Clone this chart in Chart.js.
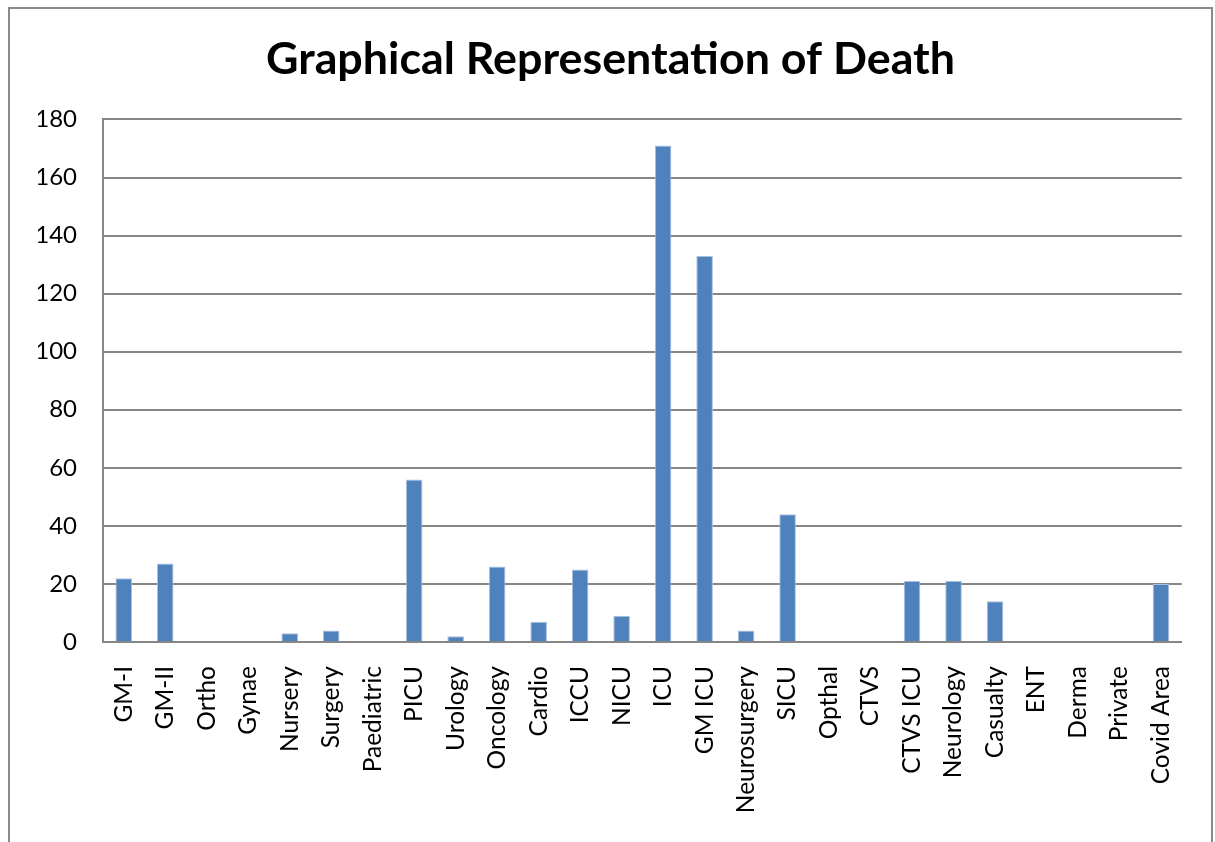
<!DOCTYPE html>
<html>
<head>
<meta charset="utf-8">
<script src="https://cdn.jsdelivr.net/npm/chart.js@4/dist/chart.umd.min.js"></script>
<style>
  html, body { margin: 0; padding: 0; background: #fff; }
  #wrap { width: 1215px; height: 842px; }
</style>
</head>
<body>
<div id="wrap"><canvas id="deathChart" width="1215" height="842"></canvas></div>
<script>
// departments along the x axis
const departments = ["GM-I", "GM-II", "Ortho", "Gynae", "Nursery", "Surgery", "Paediatric", "PICU",
  "Urology", "Oncology", "Cardio", "ICCU", "NICU", "ICU", "GM ICU", "Neurosurgery", "SICU",
  "Opthal", "CTVS", "CTVS ICU", "Neurology", "Casualty", "ENT", "Derma", "Private", "Covid Area"];

// number of deaths per department
const deaths = [22, 27, 0, 0, 3, 4, 0, 56, 2, 26, 7, 25, 9, 171, 133, 4, 44, 0, 0, 21, 21, 14, 0, 0, 0, 20];

const yMin = 0;
const yMax = 180;
const yStep = 20;

const gridGray = "#868686";

// outer frame like the Excel chart border
const framePlugin = {
    id: "frame",
    beforeDraw(chart) {
        const ctx = chart.ctx;
        ctx.save();
        ctx.fillStyle = "#ffffff";
        ctx.fillRect(0, 0, chart.width, chart.height);
        ctx.strokeStyle = "#8a8a8a";
        ctx.lineWidth = 2;
        ctx.strokeRect(9, 8, 1203, 900);
        ctx.restore();
    }
};

let ctx = document.getElementById("deathChart").getContext("2d");

let deathChart = new Chart(ctx, {
    type: "bar",
    data: {
        labels: departments,
        datasets: [{
            label: "Deaths",
            data: deaths,
            backgroundColor: "#4F81BD",
            borderColor: "#A9C1E0",
            borderWidth: 1,
            categoryPercentage: 1.0,
            barPercentage: 0.4
        }]
    },
    options: {
        responsive: false,
        animation: false,
        layout: {
            // left/right padding picked so the title centres at x ~ 611
            padding: { left: 38, right: 32, top: 0, bottom: 0 }
        },
        plugins: {
            legend: { display: false },
            tooltip: { enabled: false },
            title: {
                display: true,
                text: "Graphical Representation of Death",
                color: "#000",
                font: { family: "Lato", size: 44.8, weight: "bold" },
                padding: { top: 32.5, bottom: 33.2 }
            }
        },
        scales: {
            y: {
                min: yMin,
                max: yMax,
                ticks: {
                    stepSize: yStep,
                    color: "#000",
                    font: { family: "Lato", size: 24 },
                    padding: 26
                },
                grid: {
                    color: gridGray,
                    lineWidth: 2,
                    drawTicks: false
                },
                border: { display: true, color: gridGray, width: 2 },
                afterFit(scale) { scale.width = 65; }
            },
            x: {
                ticks: {
                    color: "#000",
                    font: { family: "Lato", size: 24.5 },
                    minRotation: 90,
                    maxRotation: 90,
                    autoSkip: false,
                    padding: 24
                },
                grid: { display: false, drawTicks: false },
                border: { display: true, color: gridGray, width: 2 },
                afterFit(scale) { scale.height = 200; }
            }
        }
    },
    plugins: [framePlugin]
});
</script>
</body>
</html>
